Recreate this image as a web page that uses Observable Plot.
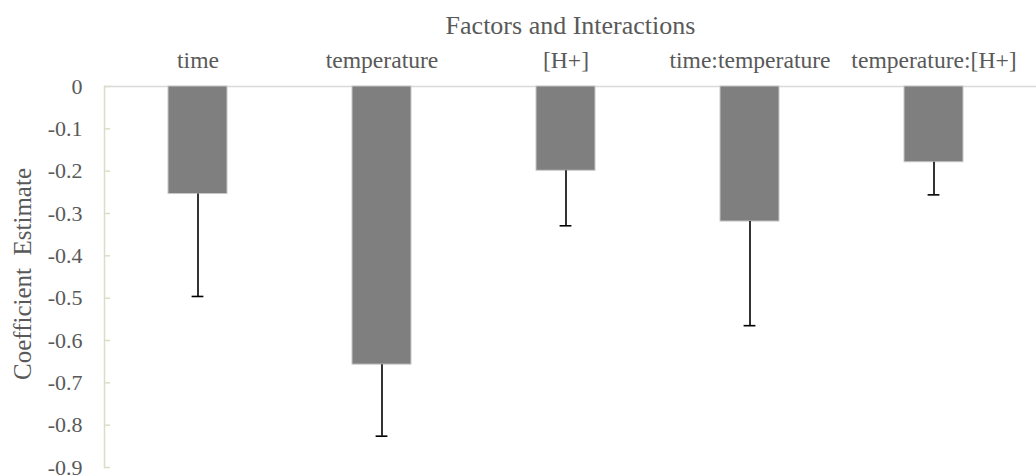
<!DOCTYPE html>
<html><head><meta charset="utf-8">
<script src="https://cdn.jsdelivr.net/npm/d3@7"></script>
<script src="https://cdn.jsdelivr.net/npm/@observablehq/plot@0.6"></script>
<style>
body{margin:0;background:#fff;}
#chart svg, #chart svg text { font-family: "Liberation Serif", "Times New Roman", serif !important; }
</style>
</head><body><div id="chart"></div>
<script>
const categories = ["time", "temperature", "[H+]", "time:temperature", "temperature:[H+]"];
const estimates = [-0.254, -0.657, -0.199, -0.319, -0.179];
const errors = [0.242, 0.169, 0.130, 0.246, 0.077];
const yTicks = [0, -0.1, -0.2, -0.3, -0.4, -0.5, -0.6, -0.7, -0.8, -0.9];
const title = "Factors and Interactions";
const yLabel = "Coefficient  Estimate";

const data = categories.map((c, i) => ({factor: c, est: estimates[i], low: estimates[i] - errors[i]}));
const textColor = "#595959";
const bandInset = 23.6;
const serif = "Liberation Serif";

const chart = Plot.plot({
  width: 1036,
  height: 476,
  marginTop: 86,
  marginBottom: 9,
  marginLeft: 104,
  marginRight: 0,
  style: {fontFamily: serif, color: textColor, background: "white"},
  x: {domain: categories, paddingInner: 0.68, paddingOuter: 0.359, align: 0.465, axis: null},
  y: {domain: [-0.9, 0], axis: null},
  marks: [
    Plot.ruleY([0], {stroke: "#d9d9d9", strokeWidth: 1.5}),
    Plot.frame({anchor: "left", stroke: "#dcdcc8", strokeWidth: 1.5}),
    Plot.axisY({ticks: yTicks, tickSize: -6, tickFormat: () => "", stroke: "#dcdcc8", strokeWidth: 1.5, label: null}),
    Plot.axisY({ticks: yTicks, tickSize: 0, tickPadding: 22, fontSize: 22, fill: textColor, fontFamily: serif,
      tickFormat: d => d === 0 ? "0" : String(d), label: null}),
    Plot.axisX({anchor: "top", tickSize: 0, tickPadding: 19, fontSize: 23.6, fill: textColor, fontFamily: serif, label: null}),
    Plot.barY(data, {x: "factor", y1: 0, y2: "est", fill: "#7f7f7f", stroke: "#c8c8c8", strokeWidth: 1}),
    Plot.ruleX(data, {x: "factor", y1: "est", y2: "low", stroke: "#000", strokeWidth: 1.6}),
    Plot.tickY(data, {x: "factor", y: "low", stroke: "#000", strokeWidth: 1.6, insetLeft: bandInset, insetRight: bandInset}),
    Plot.text([title], {text: d => d, frameAnchor: "top", textAnchor: "middle", dx: 0, dy: -71, fontSize: 26, fill: textColor, fontFamily: serif}),
    Plot.text([yLabel], {text: d => d, frameAnchor: "left", textAnchor: "middle", dx: -82, dy: -3, rotate: -90, fontSize: 25, fill: textColor, fontFamily: serif})
  ]
});
document.getElementById("chart").appendChild(chart);
</script>
</body></html>
